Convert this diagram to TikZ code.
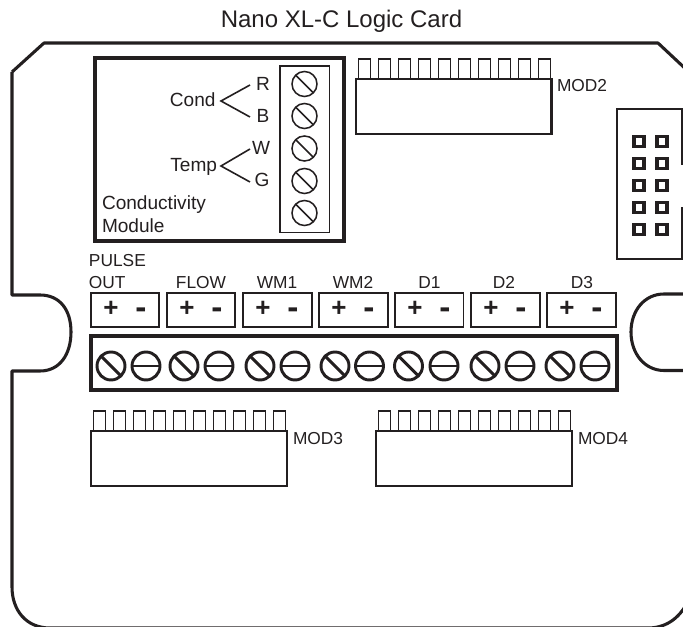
\documentclass[tikz,border=0pt]{standalone}
\usepackage{fontspec}
\setmainfont{Liberation Sans}
\definecolor{ink}{HTML}{231F20}
\tikzset{
  x=0.75pt,y=-0.75pt,
  every node/.style={text=ink,inner sep=0pt,outer sep=0pt},
  heavy/.style={draw=ink,line width=2.4pt,fill=white},
  modbody/.style={draw=ink,line width=2.1pt,fill=white},
  outline/.style={draw=ink,line width=2.3pt,line join=round},
  thinbox/.style={draw=ink,line width=1.2pt},
  screw/.style={draw=ink,line width=2.2pt},
  screwthin/.style={draw=ink,line width=1.15pt},
  lbl/.style={font=\fontsize{14.3pt}{16pt}\selectfont},
  tlbl/.style={font=\fontsize{13pt}{15pt}\selectfont},
  plussign/.style={font=\fontsize{19.5pt}{20pt}\selectfont\bfseries},
  minussign/.style={font=\fontsize{25pt}{25pt}\selectfont\bfseries},
  pinsq/.style={draw=ink,line width=2.8pt},
}
\newcommand{\slotscrew}[3]{%
  \draw[screw] (#1,#2) circle[radius=#3*0.75pt];
  \draw[screw] ({#1-#3*0.72},{#2-#3*0.72}) -- ({#1+#3*0.72},{#2+#3*0.72});}
\newcommand{\flatscrew}[3]{%
  \draw[screw] (#1,#2) circle[radius=#3*0.75pt];
  \draw[screw] ({#1-#3},#2) -- ({#1+#3},#2);}
\newcommand{\thinscrew}[3]{%
  \draw[screwthin] (#1,#2) circle[radius=#3*0.75pt];
  \draw[screwthin] ({#1-#3*0.72},{#2-#3*0.72}) -- ({#1+#3*0.72},{#2+#3*0.72});}
\newcommand{\modpack}[3]{%
  \foreach \i in {0,...,9}{
    \draw[thinbox] ({#1+2.5+\i*20},#2) -- ({#1+2.5+\i*20},{#2-20}) -- ({#1+14.5+\i*20},{#2-20}) -- ({#1+14.5+\i*20},#2);
  }
  \draw[modbody] (#1,#2) rectangle (#3,{#2+55});}
\newcommand{\termbox}[2]{%
  \draw[thinbox] (#1,293) rectangle (#2,327);
  \node[plussign] at ({#1+20},309) {+};
  \node[minussign] at ({#1+50},313) {-};
}
\begin{document}
\begin{tikzpicture}
\useasboundingbox (0,0) rectangle (683,627);
\clip (0,0) rectangle (683,627);
\node[font=\fontsize{18pt}{20pt}\selectfont,anchor=base] (title) at (341.5,28) {Nano XL-C Logic Card};
% board outline
\draw[outline] (12,72) -- (44,43) -- (658,43) -- (690,73);
\draw[outline] (690,294) -- (664,294) .. controls (645,294) and (631,310) .. (631,332) .. controls (631,354) and (645,370.5) .. (664,370.5) -- (690,370.5);
\draw[outline] (690,597) .. controls (682,616) and (668,628) .. (648,628) -- (50,628) .. controls (26,628) and (12,610) .. (12,587) -- (12,371) -- (40,371) .. controls (60,371) and (71,354) .. (71,332) .. controls (71,310) and (60,295) .. (40,295) -- (12,295) -- (12,72);
% conductivity module
\draw[heavy,fill=none] (95,58) rectangle (344,241);
\draw[thinbox] (280,66) rectangle (329.5,232.5);
\foreach \y in {84,116,148.5,181,213}{\thinscrew{304.5}{\y}{12.5}}
\node[lbl,anchor=base east] (cond) at (215.5,107) {Cond};
\node[lbl,anchor=base] (r) at (263,91) {R};
\node[lbl,anchor=base] (b) at (263,123) {B};
\node[lbl,anchor=base east] (temp) at (217,172) {Temp};
\node[lbl,anchor=base] (w) at (261,155) {W};
\node[lbl,anchor=base] (g) at (262,187) {G};
\coordinate (ca) at (221,101);
\coordinate (ra) at (250,85);
\coordinate (ba) at (250,117);
\coordinate (ta) at (221,166);
\coordinate (wa) at (250,149);
\coordinate (ga) at (250,182);
\draw[thinbox] (ra) -- (ca) -- (ba);
\draw[thinbox] (wa) -- (ta) -- (ga);
\node[lbl,anchor=base west] (cm1) at (102,210) {Conductivity};
\node[lbl,anchor=base west] (cm2) at (102,233) {Module};
% MOD2
\modpack{356}{79}{551.5}
\node[tlbl,anchor=base west] (m2) at (557,92) {MOD2};
% connector
\draw[draw=ink,line width=2.1pt] (682,165) -- (682,109) -- (617,109) -- (617,259) -- (682,259) -- (682,207);
\foreach \y in {141.5,163.5,185.5,207.5,229.5}{
  \foreach \x in {639,662}{\draw[pinsq] (\x-5,\y-5) rectangle (\x+5,\y+5);}
}
% terminal labels
\node[tlbl,anchor=base west] (p1) at (89,267) {PULSE};
\node[tlbl,anchor=base west] (p2) at (89,289) {OUT};
\node[tlbl,anchor=base] (fl) at (201,289) {FLOW};
\node[tlbl,anchor=base] (wm1) at (277,289) {WM1};
\node[tlbl,anchor=base] (wm2) at (353,289) {WM2};
\node[tlbl,anchor=base] (d1) at (429.5,289) {D1};
\node[tlbl,anchor=base] (d2) at (504,289) {D2};
\node[tlbl,anchor=base] (d3) at (582,289) {D3};
\foreach \x/\e in {91/159,167/235,243/312,319/388,395/463.5,471/540,547/616}{\termbox{\x}{\e}}
% terminal strip
\draw[heavy,fill=none] (91,336) rectangle (617,390);
\foreach \x/\f in {111/146,184/219,260/295,335/369.5,408.5/444,485/520,560/595}{
  \slotscrew{\x}{366}{14}
  \flatscrew{\f}{366}{14}
}
% MOD3 MOD4
\modpack{91}{431}{287}
\node[tlbl,anchor=base west] (m3) at (293,445) {MOD3};
\modpack{376}{431}{572}
\node[tlbl,anchor=base west] (m4) at (578,445) {MOD4};
\end{tikzpicture}
\end{document}
